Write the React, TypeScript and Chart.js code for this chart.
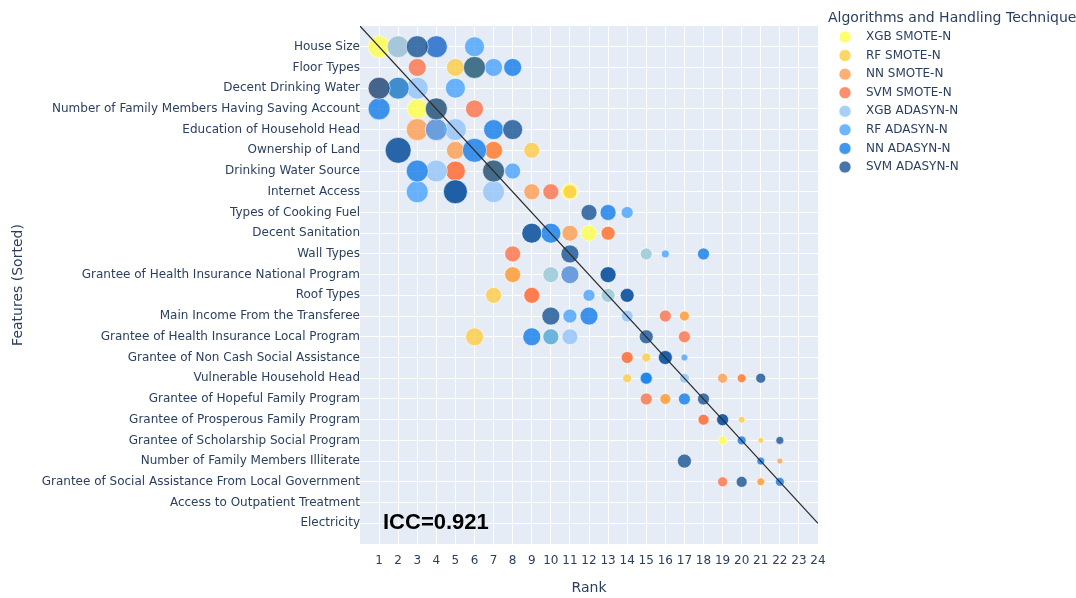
import React, { useEffect, useRef } from "react";
import { Chart, registerables } from "chart.js";

Chart.register(...registerables);

const features = [
  "House Size",
  "Floor Types",
  "Decent Drinking Water",
  "Number of Family Members Having Saving Account",
  "Education of Household Head",
  "Ownership of Land",
  "Drinking Water Source",
  "Internet Access",
  "Types of Cooking Fuel",
  "Decent Sanitation",
  "Wall Types",
  "Grantee of Health Insurance National Program",
  "Roof Types",
  "Main Income From the Transferee",
  "Grantee of Health Insurance Local Program",
  "Grantee of Non Cash Social Assistance",
  "Vulnerable Household Head",
  "Grantee of Hopeful Family Program",
  "Grantee of Prosperous Family Program",
  "Grantee of Scholarship Social Program",
  "Number of Family Members Illiterate",
  "Grantee of Social Assistance From Local Government",
  "Access to Outpatient Treatment",
  "Electricity",
];

const seriesNames = [
  "XGB SMOTE-N",
  "RF SMOTE-N",
  "NN SMOTE-N",
  "SVM SMOTE-N",
  "XGB ADASYN-N",
  "RF ADASYN-N",
  "NN ADASYN-N",
  "SVM ADASYN-N",
];

const N = null;

// rank given by each model to each feature (index follows `features`)
const xgbSmoteRank = [1, 6, N, 3, N, 7, N, 11, N, 12, 15, 10, 13, N, 10, N, 20, N, N, 19, N, N, N, N];
const xgbSmoteSize = [22, 22, N, 20, N, 18, N, 17, N, 16, 12, 16, 14, N, 16, N, 9, N, N, 9, N, N, N, N];

const rfSmoteRank = [2, 5, 2, 4, N, 9, 7, 11, N, 13, N, 8, 7, 17, 6, 15, 14, 16, 20, 21, N, 21, N, N];
const rfSmoteSize = [22, 18, 22, 22, N, 16, 22, 14, N, 14, N, 16, 16, 10, 18, 9, 9, 11, 7, 6, N, 8, N, N];

const nnSmoteRank = [N, N, 1, N, 3, 5, 5, 9, N, 11, N, 8, 9, 17, N, 14, 19, 16, 18, N, 22, 21, N, N];
const nnSmoteSize = [N, N, 22, N, 22, 18, 20, 16, N, 16, N, 16, 16, 10, N, 12, 10, 11, 11, N, 6, 8, N, N];

const svmSmoteRank = [4, 3, N, 6, 4, 7, 5, 10, N, 13, 8, 11, 9, 16, 17, 14, 20, 15, 18, N, N, 19, N, N];
const svmSmoteSize = [22, 18, N, 18, 22, 18, 20, 16, N, 14, 16, 18, 16, 12, 12, 12, 9, 12, 11, N, N, 10, N, N];

const xgbAdasynRank = [2, N, 3, N, 5, N, 4, 7, N, N, 15, 10, 13, 14, 11, N, 17, N, N, N, N, N, N, N];
const xgbAdasynSize = [22, N, 22, N, 22, N, 22, 22, N, N, 12, 16, 14, 12, 16, N, 10, N, N, N, N, N, N, N];

const rfAdasynRank = [6, 7, 5, N, 4, 2, 8, 3, 14, 9, 16, 11, 12, 11, 10, 17, 15, N, N, N, N, N, N, N];
const rfAdasynSize = [20, 18, 20, N, 22, 26, 16, 22, 12, 20, 8, 18, 12, 14, 16, 7, 13, N, N, N, N, N, N, N];

const nnAdasynRank = [4, 8, 2, 1, 7, 6, 3, 5, 13, 10, 18, 13, 14, 12, 9, 16, 15, 17, 19, 20, 21, 22, N, N];
const nnAdasynSize = [22, 18, 22, 22, 20, 24, 22, 24, 16, 20, 12, 16, 14, 18, 18, 14, 12, 12, 12, 9, 8, 9, N, N];

const svmAdasynRank = [3, 6, 1, 4, 8, 2, 7, 5, 12, 9, 11, 13, 14, 10, 15, 16, 21, 18, 19, 22, 17, 20, N, N];
const svmAdasynSize = [22, 22, 22, 22, 20, 26, 22, 24, 16, 20, 18, 16, 14, 18, 14, 14, 10, 12, 12, 8, 14, 11, N, N];

const seriesRanks = [xgbSmoteRank, rfSmoteRank, nnSmoteRank, svmSmoteRank, xgbAdasynRank, rfAdasynRank, nnAdasynRank, svmAdasynRank];
const seriesSizes = [xgbSmoteSize, rfSmoteSize, nnSmoteSize, svmSmoteSize, xgbAdasynSize, rfAdasynSize, nnAdasynSize, svmAdasynSize];

const rankTicks = [1, 2, 3, 4, 5, 6, 7, 8, 9, 10, 11, 12, 13, 14, 15, 16, 17, 18, 19, 20, 21, 22, 23, 24];
const diagonalRank = [0, 24];
const diagonalFeature = [-1, 23];
const iccText = "ICC=0.921";
const legendTitle = "Algorithms and Handling Technique";

// styles
const seriesColors = [
  "rgba(255,255,72,0.8)",
  "rgba(252,204,66,0.8)",
  "rgba(252,156,78,0.8)",
  "rgba(253,114,72,0.8)",
  "rgba(145,196,247,0.8)",
  "rgba(72,162,251,0.8)",
  "rgba(18,124,233,0.8)",
  "rgba(22,82,148,0.8)",
];
const TEXT = "#2a3f5f";
const FONT = '"DejaVu Sans", Verdana, sans-serif';

export default function App() {
  const ref = useRef<HTMLCanvasElement | null>(null);

  useEffect(() => {
    if (!ref.current) return;

    const bubbleSets = seriesNames.map((name, s) => {
      const pts: { x: number; y: number; r: number }[] = [];
      seriesRanks[s].forEach((rank, i) => {
        if (rank !== null && seriesSizes[s][i] !== null) {
          pts.push({ x: rank as number, y: i, r: (seriesSizes[s][i] as number) / 2 });
        }
      });
      return {
        type: "bubble" as const,
        label: name,
        data: pts,
        backgroundColor: seriesColors[s],
        borderColor: "rgba(255,255,255,0.6)",
        borderWidth: 1,
        order: 10 - s,
      };
    });

    const lineSet = {
      type: "line" as const,
      label: "diag",
      data: diagonalRank.map((x, i) => ({ x, y: diagonalFeature[i] })),
      borderColor: "#2b2b2b",
      borderWidth: 1.2,
      pointRadius: 0,
      fill: false,
      order: -1,
    };

    const bgPlugin = {
      id: "bg",
      beforeDraw(chart: any) {
        const { ctx, chartArea } = chart;
        ctx.save();
        ctx.fillStyle = "#ffffff";
        ctx.fillRect(0, 0, chart.width, chart.height);
        ctx.fillStyle = "#E5ECF6";
        ctx.fillRect(chartArea.left, chartArea.top, chartArea.right - chartArea.left, chartArea.bottom - chartArea.top);
        ctx.restore();
      },
    };

    const overlayPlugin = {
      id: "overlay",
      afterDraw(chart: any) {
        const { ctx, chartArea } = chart;
        ctx.save();
        // ICC annotation
        ctx.fillStyle = "#000";
        ctx.font = 'bold 22px "Liberation Sans", Arial, sans-serif';
        ctx.textAlign = "left";
        ctx.textBaseline = "middle";
        ctx.fillText(iccText, chartArea.left + 23, chart.scales.y.getPixelForValue(23));
        // legend
        const lx = chartArea.right + 11;
        ctx.fillStyle = TEXT;
        ctx.font = `14px ${FONT}`;
        ctx.fillText(legendTitle, lx - 1, 18);
        ctx.font = `12px ${FONT}`;
        seriesNames.forEach((name, i) => {
          const y = 37 + i * 18.57;
          ctx.beginPath();
          ctx.arc(lx + 16, y, 6, 0, Math.PI * 2);
          ctx.fillStyle = seriesColors[i];
          ctx.fill();
          ctx.strokeStyle = "rgba(255,255,255,0.6)";
          ctx.lineWidth = 1;
          ctx.stroke();
          ctx.fillStyle = TEXT;
          ctx.fillText(name, lx + 37, y);
        });
        ctx.restore();
      },
    };

    const chart = new Chart(ref.current, {
      type: "bubble",
      data: { datasets: [...bubbleSets, lineSet] as any },
      options: {
        animation: false,
        responsive: true,
        maintainAspectRatio: false,
        events: [],
        layout: { padding: { top: 26, right: 258, bottom: 0, left: 0 } },
        plugins: { legend: { display: false }, tooltip: { enabled: false } },
        scales: {
          x: {
            type: "linear",
            min: 0,
            max: 24,
            afterBuildTicks: (s: any) => {
              s.ticks = rankTicks.map((v) => ({ value: v }));
            },
            afterFit: (s: any) => {
              s.height = 54;
            },
            ticks: {
              autoSkip: false,
              maxRotation: 0,
              padding: 10,
              color: TEXT,
              font: { size: 12, family: FONT },
            },
            grid: { color: "#ffffff", lineWidth: 1, drawTicks: false },
            border: { display: false },
            title: {
              display: true,
              text: "Rank",
              color: TEXT,
              font: { size: 14, family: FONT },
              padding: { top: 0, bottom: 1 },
            },
          },
          y: {
            type: "linear",
            min: -1,
            max: 24,
            reverse: true,
            afterBuildTicks: (s: any) => {
              s.ticks = features.map((_, i) => ({ value: i }));
            },
            afterFit: (s: any) => {
              s.width = 360;
            },
            ticks: {
              autoSkip: false,
              padding: 0,
              color: TEXT,
              font: { size: 12, family: FONT },
              callback: (v: any) => features[v as number] ?? "",
            },
            grid: { color: "#ffffff", lineWidth: 1, drawTicks: false },
            border: { display: false },
            title: {
              display: true,
              text: "Features (Sorted)",
              color: TEXT,
              font: { size: 14, family: FONT },
              padding: { top: 10, bottom: 0 },
            },
          },
        },
      },
      plugins: [bgPlugin, overlayPlugin],
    } as any);

    return () => chart.destroy();
  }, []);

  return (
    <div style={{ position: "fixed", left: 0, top: 0, width: 1076, height: 598, background: "#fff" }}>
      <canvas ref={ref} />
    </div>
  );
}
